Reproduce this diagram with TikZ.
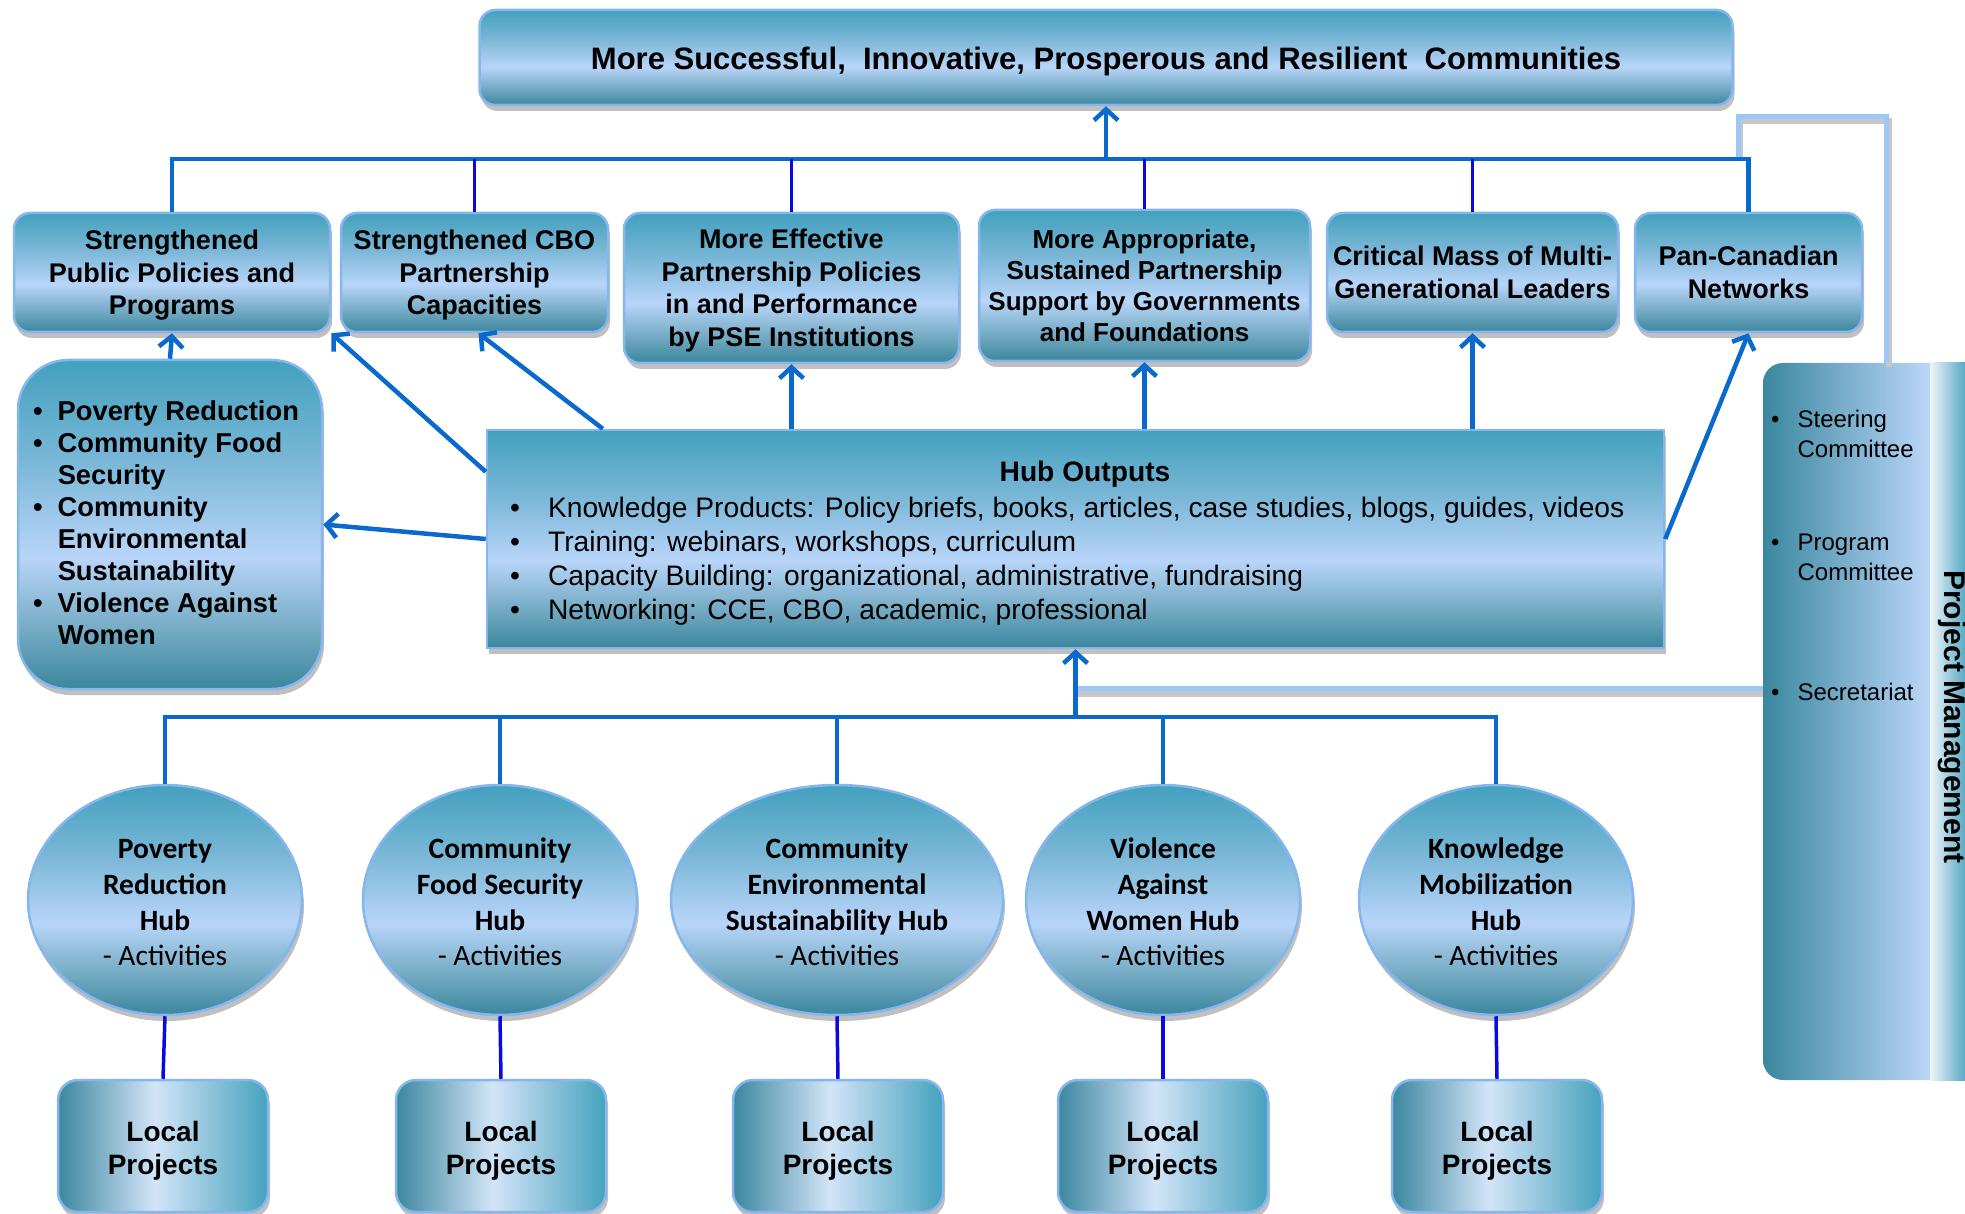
\documentclass[tikz,border=0pt]{standalone}
\usepackage{fontspec}
\setmainfont{Liberation Sans}
\newfontfamily\calfont{Carlito}
\usetikzlibrary{arrows.meta,shadows,shapes.geometric}

\definecolor{linecol}{HTML}{0A69CD}
\definecolor{tickcol}{HTML}{0A0AE0}
\definecolor{bordercol}{HTML}{86B6EE}
\definecolor{tealT}{HTML}{42A1BE}
\definecolor{tealM}{HTML}{79B6D6}
\definecolor{lightB}{HTML}{B8D5F9}
\definecolor{tealL}{HTML}{6EA7BF}
\definecolor{tealB}{HTML}{3A869E}
\definecolor{lbcol}{HTML}{9CC8F8}
\definecolor{lpL}{HTML}{3B879F}
\definecolor{lpM}{HTML}{D3E4F8}
\definecolor{lpR}{HTML}{46A2BD}
\definecolor{pmL}{HTML}{3A879E}
\definecolor{pmR}{HTML}{BCD7FA}
\definecolor{stripL}{HTML}{EEF5FD}
\definecolor{stripR}{HTML}{55A7C2}

\pgfdeclareverticalshading{boxshade}{100bp}{color(0bp)=(tealB); color(25bp)=(tealB); color(33bp)=(tealL); color(45bp)=(lightB); color(60bp)=(tealM); color(75bp)=(tealT); color(100bp)=(tealT)}
\pgfdeclarehorizontalshading{lpshade}{100bp}{color(0bp)=(lpL); color(25bp)=(lpL); color(48bp)=(lpM); color(75bp)=(lpR); color(100bp)=(lpR)}
\pgfdeclarehorizontalshading{pmshade}{100bp}{color(0bp)=(pmL); color(25bp)=(pmL); color(70bp)=(pmR); color(100bp)=(pmR)}
\pgfdeclarehorizontalshading{stripshade}{100bp}{color(0bp)=(stripL); color(25bp)=(stripL); color(75bp)=(stripR); color(100bp)=(stripR)}

% invisible strut that lowers a centred block of text a little
\newcommand\tpad[1]{\rule{0pt}{#1}}

\tikzset{
  shadowed/.style={drop shadow={shadow xshift=2pt,shadow yshift=-6pt,fill=black!55,opacity=0.45}},
  outbox/.style={shadowed,draw=bordercol,line width=2.5pt,shade,shading=boxshade,rounded corners=16pt,
    align=center,inner sep=0pt,font=\bfseries\fontsize{27}{32.5}\selectfont},
  hub/.style={shadowed,ellipse,draw=bordercol,line width=2.5pt,shade,shading=boxshade,
    align=center,inner sep=0pt,minimum width=274pt,minimum height=230pt,
    font=\calfont\bfseries\fontsize{29.5}{35.7}\selectfont},
  lp/.style={shadowed,draw=bordercol,line width=2.5pt,shade,shading=lpshade,rounded corners=20pt,
    align=center,inner sep=0pt,minimum width=210pt,minimum height=132pt,
    font=\bfseries\fontsize{28}{33}\selectfont},
  mainline/.style={draw=linecol,line width=4.5pt},
  tickline/.style={draw=tickcol,line width=3.5pt},
  arr/.style={draw=linecol,line width=4.5pt,-{Straight Barb[length=11pt,width=24pt]}},
  lbc/.style={draw=lbcol,line width=5pt},
  lbcshadow/.style={draw=black!22,line width=6pt},
  pmitem/.style={anchor=west,inner sep=0pt,font=\fontsize{24}{30}\selectfont},
}

\begin{document}
\begin{tikzpicture}[x=1pt,y=-1pt]
\useasboundingbox (0,0) rectangle (1965,1214);

% top goal
\node[outbox,minimum width=1253pt,minimum height=95pt,font=\bfseries\fontsize{31}{36}\selectfont] (top) at (1106,57.5)
  {\tpad{30pt}More Successful,\ \ Innovative, Prosperous and Resilient\ \ Communities};

% outcome boxes
\node[outbox,minimum width=316pt,minimum height=119pt] (b1) at (172,272.5) {\tpad{25pt}Strengthened\\Public Policies and\\Programs};
\node[outbox,minimum width=267pt,minimum height=119pt] (b2) at (474.5,272.5) {\tpad{25pt}Strengthened CBO\\Partnership\\Capacities};
\node[outbox,minimum width=335pt,minimum height=150pt] (b3) at (791.5,288) {\tpad{25pt}More Effective\\Partnership Policies\\in and Performance\\by PSE Institutions};
\node[outbox,minimum width=331pt,minimum height=151pt,font=\bfseries\fontsize{26}{31}\selectfont] (b4) at (1144.5,285.5) {More Appropriate,\\Sustained Partnership\\Support by Governments\\and Foundations};
\node[outbox,minimum width=291pt,minimum height=119pt] (b5) at (1472.5,272.5) {Critical Mass of Multi-\\Generational Leaders};
\node[outbox,minimum width=227pt,minimum height=119pt] (b6) at (1748.5,272.5) {Pan-Canadian\\Networks};

% left themes box
\node[outbox,rounded corners=50pt,minimum width=304pt,minimum height=329pt] (lb) at (170,524.5) {};
\node[anchor=west,inner sep=0pt,font=\bfseries\fontsize{27.3}{32}\selectfont] (lbt) at (33,526) {%
\begin{tabular}{@{}l@{\hspace{15pt}}l@{}}
\textbullet & Poverty Reduction\\
\textbullet & Community Food\\
 & Security\\
\textbullet & Community\\
 & Environmental\\
 & Sustainability\\
\textbullet & Violence Against\\
 & Women
\end{tabular}};

% hub outputs
\node[outbox,rounded corners=0pt,minimum width=1177pt,minimum height=218pt] (ho) at (1075.5,539) {};
\node[inner sep=0pt,font=\bfseries\fontsize{28.2}{34}\selectfont] (hot) at (1085,474) {Hub Outputs};
\node[anchor=west,inner sep=0pt,font=\fontsize{28.2}{34}\selectfont] (hol) at (510,562) {%
\begin{tabular}{@{}l@{\hspace{28pt}}l@{}}
\textbullet & Knowledge Products: Policy briefs, books, articles, case studies, blogs, guides, videos\\
\textbullet & Training: webinars, workshops, curriculum\\
\textbullet & Capacity Building: organizational, administrative, fundraising\\
\textbullet & Networking: CCE, CBO, academic, professional
\end{tabular}};

% hubs
\node[hub] (e1) at (165,900) {\tpad{25pt}Poverty\\Reduction\\Hub\\{\mdseries - Activities}};
\node[hub] (e2) at (500,900) {\tpad{25pt}Community\\Food Security\\Hub\\{\mdseries - Activities}};
\node[hub,minimum width=332pt] (e3) at (837,900) {\tpad{25pt}Community\\Environmental\\Sustainability Hub\\{\mdseries - Activities}};
\node[hub] (e4) at (1163,900) {\tpad{25pt}Violence\\Against\\Women Hub\\{\mdseries - Activities}};
\node[hub] (e5) at (1496,900) {\tpad{25pt}Knowledge\\Mobilization\\Hub\\{\mdseries - Activities}};

% local projects
\node[lp] (l1) at (163,1146) {\tpad{30pt}Local\\Projects};
\node[lp] (l2) at (501,1146) {\tpad{30pt}Local\\Projects};
\node[lp] (l3) at (838,1146) {\tpad{30pt}Local\\Projects};
\node[lp] (l4) at (1163,1146) {\tpad{30pt}Local\\Projects};
\node[lp] (l5) at (1497,1146) {\tpad{30pt}Local\\Projects};

% project management
\node[draw=none,shade,shading=pmshade,rounded corners=20pt,minimum width=187pt,minimum height=717pt,inner sep=0pt] (pm) at (1856.5,721.5) {};
\node[draw=none,shade,shading=stripshade,minimum width=36pt,minimum height=717pt,inner sep=0pt] (pms) at (1948,721.5) {};
\node[rotate=-90,inner sep=0pt,font=\bfseries\fontsize{30}{34}\selectfont] (pmt) at (1952,717) {Project Management};
\node[pmitem] (pm1) at (1771,436) {\begin{tabular}{@{}l@{\hspace{18pt}}l@{}}\textbullet & Steering\\ & Committee\end{tabular}};
\node[pmitem] (pm2) at (1771,559) {\begin{tabular}{@{}l@{\hspace{18pt}}l@{}}\textbullet & Program\\ & Committee\end{tabular}};
\node[pmitem] (pm3) at (1771,694) {\begin{tabular}{@{}l@{\hspace{18pt}}l@{}}\textbullet & Secretariat\end{tabular}};

% coordinates on the bars
\coordinate (tbar) at (0,159);
\coordinate (bbar) at (0,717);
\coordinate (pmjoin) at (1738,159);

% light blue management connectors
\draw[lbcshadow] ([xshift=32pt,yshift=-4pt]pm.north) |- ([xshift=2pt,yshift=38pt]pmjoin) -- ([xshift=2pt,yshift=-2pt]pmjoin);
\draw[lbc] ([xshift=29.5pt]pm.north) |- ([yshift=42pt]pmjoin) -- (pmjoin);
\draw[lbcshadow] ([yshift=28pt]pm.west) -- ([yshift=28pt]pm.west -| ho.south);
\draw[lbc] ([yshift=33.5pt]pm.west) -- ([yshift=33.5pt]pm.west -| ho.south);

% top bar
\draw[mainline] (b1.north) -- (b1.north |- tbar) -- (b6.north |- tbar) -- (b6.north);
\foreach \b in {b2,b3,b4,b5} \draw[tickline] (\b.north) -- (\b.north |- tbar);
\draw[arr] (top.south |- tbar) -- (top.south);

% hub outputs to outcomes
\draw[arr] (lb.north) -- (b1.south);
\draw[arr] ([yshift=-43pt]ho.north west) -- (b1.south east);
\draw[arr] ([xshift=117pt]ho.north west) -- ([xshift=4pt]b2.south);
\draw[arr] (ho.north -| b3.south) -- (b3.south);
\draw[arr] (ho.north -| b4.south) -- (b4.south);
\draw[arr] (ho.north -| b5.south) -- (b5.south);
\draw[arr] (ho.east) -- (b6.south);
\draw[arr] (ho.west) -- (lb.east);

% bottom bar
\draw[mainline] (e1.north) -- (e1.north |- bbar) -- (e5.north |- bbar) -- (e5.north);
\foreach \e in {e2,e3,e4} \draw[mainline] (\e.north) -- (\e.north |- bbar);
\draw[arr] (ho.south |- bbar) -- (ho.south);

% hubs to local projects
\foreach \i in {1,...,5} \draw[tickline] (e\i.south) -- (l\i.north);
\end{tikzpicture}
\end{document}
